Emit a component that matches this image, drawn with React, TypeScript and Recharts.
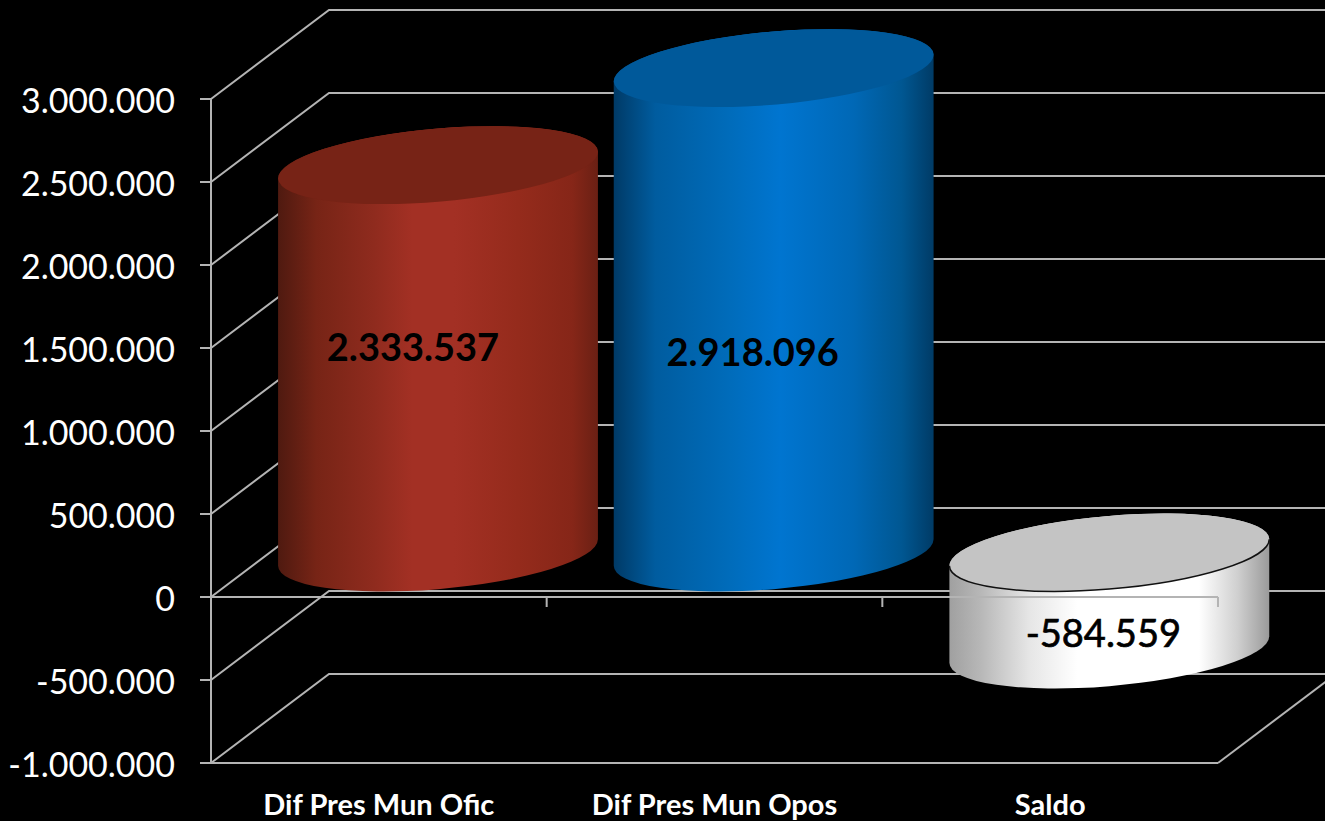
import React from 'react';
import { BarChart, Bar, XAxis, YAxis, CartesianGrid, LabelList, ReferenceLine } from 'recharts';

const categories = ['Dif Pres Mun Ofic', 'Dif Pres Mun Opos', 'Saldo'];
const values = [2333537, 2918096, -584559];
const yTicks = [-1000000, -500000, 0, 500000, 1000000, 1500000, 2000000, 2500000, 3000000];

const data = categories.map((name, i) => ({ name, value: values[i] }));

const WIDTH = 1325;
const HEIGHT = 821;
const FONT = 'Lato, sans-serif';
const GRID = '#b4b4b4';

// depth of the fake 3D box
const DX = 118;
const DY = 89;
const TILT = -5;
const RY = 36.5;

const palettes = [
  {
    top: '#772316',
    stops: [[0, '#4f1a10'], [12, '#772416'], [30, '#8f2b1e'], [42, '#a33024'], [55, '#a33024'], [75, '#952b1c'], [92, '#862618'], [100, '#6a2014']],
  },
  {
    top: '#00599a',
    stops: [[0, '#003a66'], [13, '#005c9f'], [35, '#006bb9'], [52, '#0075d0'], [75, '#0068b6'], [90, '#005792'], [100, '#003b66']],
  },
  {
    top: '#c4c4c4',
    stops: [[0, '#a0a0a0'], [10, '#b8b8b8'], [25, '#e6e6e6'], [40, '#ffffff'], [78, '#ffffff'], [90, '#d0d0d0'], [100, '#9a9a9a']],
  },
];

const labelOffsets = [
  { x: -25, y: -57 },
  { x: -21, y: -4 },
  { x: -6, y: -14 },
];

const fmt = (v: number) => String(v).replace(/\B(?=(\d{3})+(?!\d))/g, '.');

const Cylinder = (props: any) => {
  const { x, y, width, height, index } = props;
  const pal = palettes[index];
  const top = Math.min(y, y + height);
  const bottom = Math.max(y, y + height);
  const cx = x + width / 2 + DX / 2;
  const yTop = top - DY / 2;
  const yBot = bottom - DY / 2;
  const rx = width / 2;
  const phi = (TILT * Math.PI) / 180;
  const t = Math.atan(-(RY / rx) * Math.tan(phi));
  const ex = rx * Math.cos(t) * Math.cos(phi) - RY * Math.sin(t) * Math.sin(phi);
  const ey = rx * Math.cos(t) * Math.sin(phi) + RY * Math.sin(t) * Math.cos(phi);
  const id = `cyl-${index}`;
  const arc = `A ${rx} ${RY} ${TILT} 0 0`;
  const body = `M ${cx - ex} ${yTop - ey} L ${cx - ex} ${yBot - ey} ${arc} ${cx + ex} ${yBot + ey} L ${cx + ex} ${yTop + ey} ${arc} ${cx - ex} ${yTop - ey} Z`;
  return (
    <g>
      <defs>
        <linearGradient id={id} x1="0" y1="0" x2="1" y2="0">
          {pal.stops.map((s, i) => (
            <stop key={i} offset={`${s[0]}%`} stopColor={s[1] as string} />
          ))}
        </linearGradient>
      </defs>
      <path d={body} fill={`url(#${id})`} />
      <ellipse cx={cx} cy={yTop} rx={rx} ry={RY} fill={pal.top} transform={`rotate(${TILT} ${cx} ${yTop})`} />
      {index === 2 && (
        <path d={`M ${cx - ex} ${yTop - ey} ${arc} ${cx + ex} ${yTop + ey}`} fill="none" stroke="#111" strokeWidth={1.5} />
      )}
    </g>
  );
};

const GridLine = (props: any) => {
  const { x, y, width, height, y1 } = props;
  const isFloor = Math.abs(y1 - (y + height)) < 1;
  const xBack = x + DX;
  return (
    <g key={props.key} fill="none" stroke={GRID} strokeWidth={2}>
      <polyline points={`${x},${y1} ${xBack},${y1 - DY} ${WIDTH},${y1 - DY}`} />
      {isFloor && (
        <>
          <line x1={x} y1={y1} x2={x + width} y2={y1} />
          <line x1={x + width} y1={y1} x2={x + width + DX} y2={y1 - DY} />
        </>
      )}
    </g>
  );
};

const ZeroAxis = (props: any) => {
  const { x1, x2, y1 } = props;
  const step = (x2 - x1) / categories.length;
  return (
    <g stroke={GRID} strokeWidth={2} fill="none">
      <line x1={x1} y1={y1} x2={x2} y2={y1} />
      {categories.map((c, i) => (
        <line key={c} x1={x1 + step * (i + 1)} y1={y1} x2={x1 + step * (i + 1)} y2={y1 + 10} />
      ))}
    </g>
  );
};

const BarValue = (props: any) => {
  const { x, y, width, height, value, index } = props;
  const off = labelOffsets[index];
  const mid = (y + y + height) / 2;
  const saldo = index === 2;
  return (
    <text
      x={x + width / 2 + DX / 2 + off.x}
      y={mid + off.y}
      textAnchor="middle"
      dominantBaseline="central"
      fontFamily={FONT}
      fontSize={38}
      fontWeight={saldo ? 400 : 700}
      stroke={saldo ? '#000' : 'none'}
      strokeWidth={saldo ? 0.7 : 0}
      fill="#000"
    >
      {fmt(value)}
    </text>
  );
};

export default function App() {
  return (
    <div style={{ position: 'absolute', left: 0, top: 0, width: WIDTH, height: HEIGHT, background: '#000', overflow: 'hidden' }}>
      <BarChart
        width={WIDTH}
        height={HEIGHT}
        data={data}
        margin={{ top: 99, right: 107, bottom: 0, left: 0 }}
        barCategoryGap={7.5}
      >
        <CartesianGrid vertical={false} horizontal={GridLine as any} />
        <XAxis
          dataKey="name"
          height={58}
          axisLine={false}
          tickLine={false}
          interval={0}
          tickMargin={25}
          tick={{ fill: '#fff', fontFamily: FONT, fontSize: 29, fontWeight: 700 }}
        />
        <YAxis
          width={211}
          domain={[-1000000, 3000000]}
          ticks={yTicks}
          interval={0}
          tickFormatter={fmt}
          axisLine={{ stroke: GRID, strokeWidth: 2 }}
          tickLine={{ stroke: GRID, strokeWidth: 2 }}
          tickSize={11}
          tickMargin={25}
          tick={{ fill: '#fff', fontFamily: FONT, fontSize: 34, dy: 2 }}
        />
        <Bar dataKey="value" shape={Cylinder} isAnimationActive={false}>
          <LabelList dataKey="value" content={BarValue} />
        </Bar>
        <ReferenceLine y={0} ifOverflow="visible" shape={ZeroAxis} />
      </BarChart>
    </div>
  );
}
